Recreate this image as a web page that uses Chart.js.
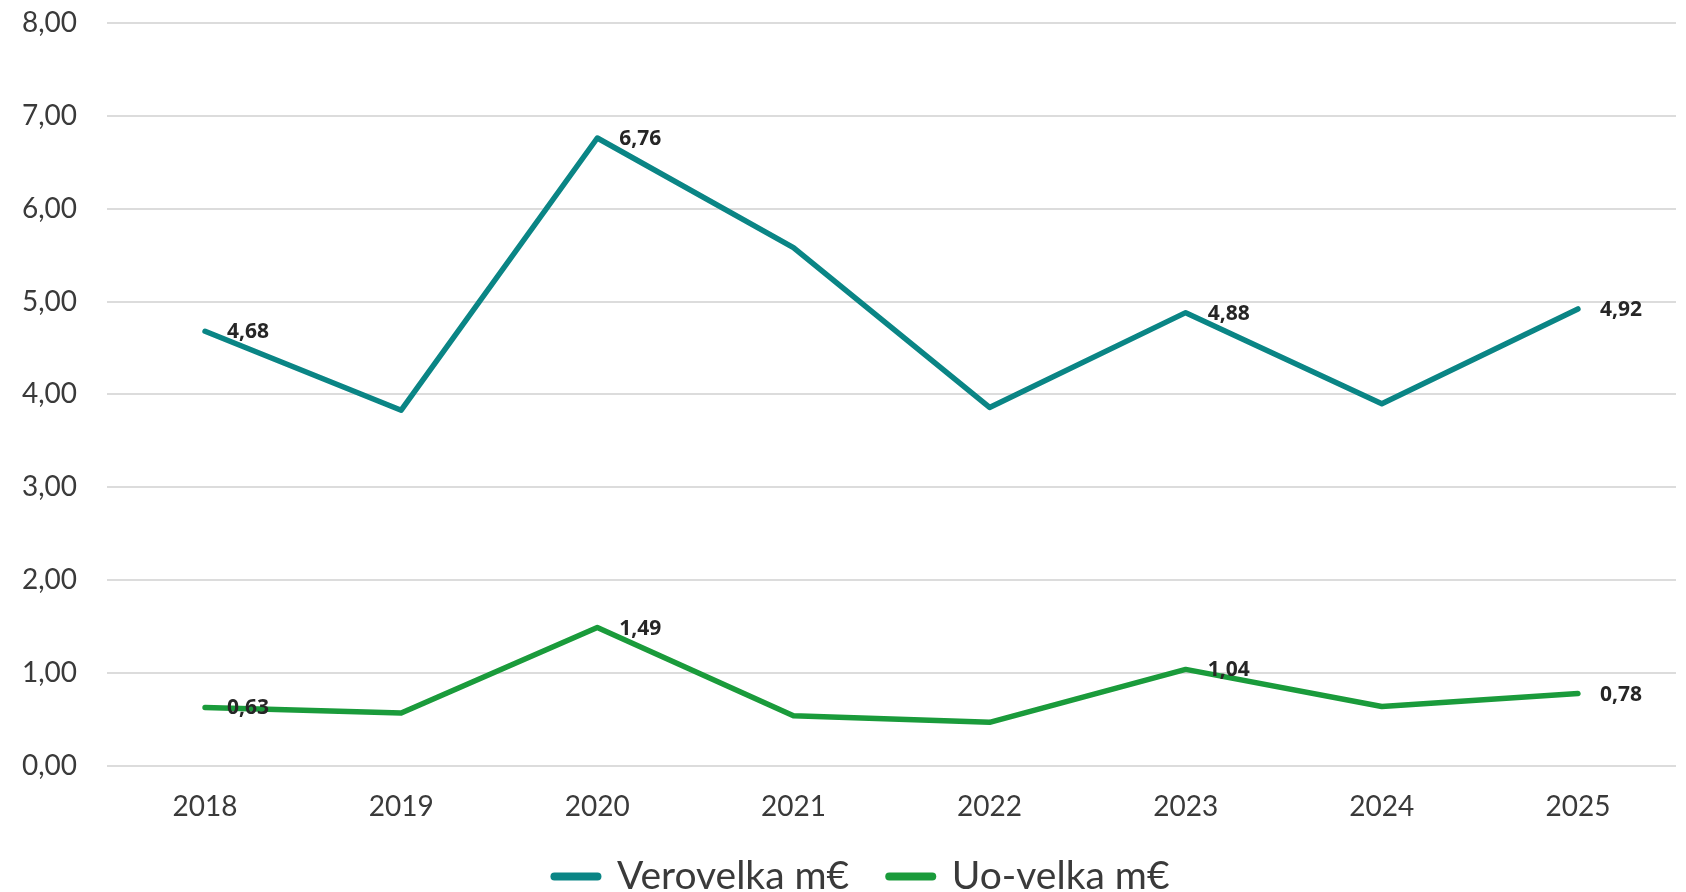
<!DOCTYPE html>
<html>
<head>
<meta charset="utf-8">
<script src="https://cdn.jsdelivr.net/npm/chart.js@4.4.1/dist/chart.umd.min.js"></script>
<style>
  html, body { margin: 0; padding: 0; background: #ffffff; }
  #wrap { width: 1686px; height: 892px; }
</style>
</head>
<body>
<div id="wrap"><canvas id="c" width="1686" height="892"></canvas></div>
<script>
// ---- data ----
const years = ['2018', '2019', '2020', '2021', '2022', '2023', '2024', '2025'];
const verovelka = [4.68, 3.83, 6.76, 5.58, 3.86, 4.88, 3.90, 4.92];
const uoVelka = [0.63, 0.57, 1.49, 0.54, 0.47, 1.04, 0.64, 0.78];
const seriesNames = ['Verovelka m€', 'Uo-velka m€'];
const labeledIndexes = [0, 2, 5, 7];
const yTicksMin = 0, yTicksMax = 8, yTicksStep = 1;

const fmt = v => v.toFixed(2).replace('.', ',');

const dataLabelPlugin = {
  id: 'dataLabels',
  afterDatasetsDraw(chart) {
    const ctx = chart.ctx;
    ctx.save();
    ctx.font = 'bold 21px "Open Sans"';
    ctx.fillStyle = '#262626';
    ctx.textAlign = 'left';
    ctx.textBaseline = 'middle';
    chart.data.datasets.forEach((ds, di) => {
      const meta = chart.getDatasetMeta(di);
      labeledIndexes.forEach(i => {
        const pt = meta.data[i];
        ctx.fillText(fmt(ds.data[i]), pt.x + 22, pt.y + 1);
      });
    });
    ctx.restore();
  }
};

const legendShiftPlugin = {
  id: 'legendShift',
  afterLayout(chart) {
    const lg = chart.legend;
    if (!lg) return;
    const DX = 13, DY = -9;
    lg.left += DX; lg.right += DX;
    lg.top += DY; lg.bottom += DY;
  }
};

new Chart(document.getElementById('c'), {
  type: 'line',
  data: {
    labels: years,
    datasets: [
      {
        label: seriesNames[0],
        data: verovelka,
        borderColor: '#0a8585',
        backgroundColor: '#0a8585',
        borderWidth: 5.5,
        borderCapStyle: 'round',
        borderJoinStyle: 'round',
        pointRadius: 0,
        pointHoverRadius: 0,
        tension: 0,
        fill: false
      },
      {
        label: seriesNames[1],
        data: uoVelka,
        borderColor: '#1a9b3b',
        backgroundColor: '#1a9b3b',
        borderWidth: 5.5,
        borderCapStyle: 'round',
        borderJoinStyle: 'round',
        pointRadius: 0,
        pointHoverRadius: 0,
        tension: 0,
        fill: false
      }
    ]
  },
  options: {
    responsive: false,
    animation: false,
    devicePixelRatio: 1,
    layout: { padding: { left: 22, right: 10, top: 0, bottom: -23 } },
    plugins: {
      tooltip: { enabled: false },
      legend: {
        position: 'bottom',
        labels: {
          font: { family: 'Lato', size: 39 },
          color: '#3a3a3a',
          usePointStyle: true,
          pointStyleWidth: 43,
          padding: 40,
          generateLabels(chart) {
            return chart.data.datasets.map((ds, i) => ({
              text: ds.label,
              fillStyle: ds.borderColor,
              strokeStyle: ds.borderColor,
              lineWidth: 8,
              lineCap: 'round',
              pointStyle: 'line',
              fontColor: '#3a3a3a',
              hidden: false,
              datasetIndex: i
            }));
          }
        }
      }
    },
    scales: {
      x: {
        offset: true,
        grid: { display: false, drawTicks: false },
        border: { display: false },
        ticks: {
          font: { family: 'Lato', size: 28 },
          color: '#3a3a3a',
          padding: 24,
          maxRotation: 0
        },
        afterFit(scale) { scale.height = 60; }
      },
      y: {
        min: yTicksMin,
        max: yTicksMax,
        grid: { color: '#dcdcdc', lineWidth: 2, drawTicks: false },
        border: { display: false },
        ticks: {
          stepSize: yTicksStep,
          font: { family: 'Lato', size: 28 },
          color: '#3a3a3a',
          padding: 6,
          crossAlign: 'far',
          callback: v => fmt(v)
        },
        afterFit(scale) { scale.width = 85; }
      }
    }
  },
  plugins: [dataLabelPlugin, legendShiftPlugin]
});
</script>
</body>
</html>
